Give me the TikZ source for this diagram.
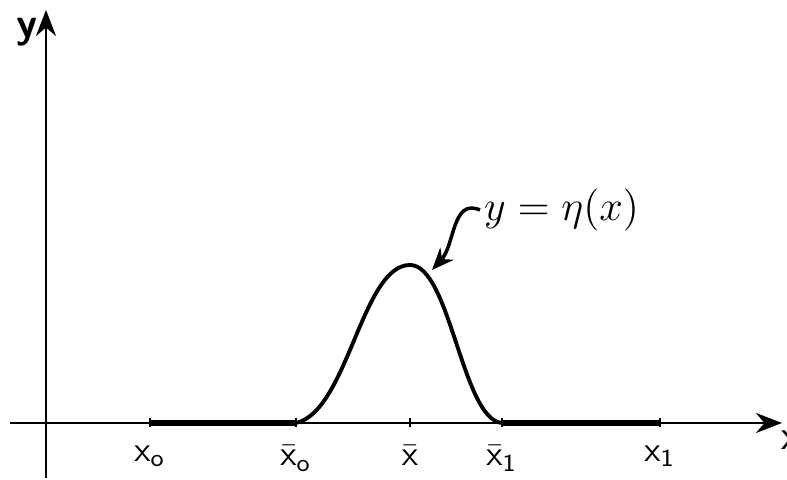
\documentclass[tikz,border=0pt]{standalone}
\usepackage{amsmath,amssymb}
\usepackage{tikz}
\usetikzlibrary{positioning,arrows.meta}

\begin{document}
\begin{tikzpicture}[
        x=0.01cm, y=-0.01cm,
        axis/.style ={thick, -{Stealth[length=2.6mm,width=2mm]}},
        curve/.style ={line width=1.1pt},
        flat/.style ={line width=1.6pt},
        tick/.style ={inner sep=0pt, minimum size=0pt},
        lab/.style ={font=\sffamily, inner sep=1pt},
        note/.style ={line width=1pt, -{Stealth[length=2.2mm,width=1.8mm]}}
    ]
        \useasboundingbox (0,0) rectangle (787,480);

        % axes
        \coordinate (xl) at (10,423);
        \coordinate (xr) at (782,423);
        \coordinate (yb) at (46,478);
        \coordinate (yt) at (46,10);
        \draw[axis] (xl) -- (xr);
        \draw[axis] (yb) -- (yt);
        \node[lab, font=\large\sffamily\bfseries, anchor=east] (ylab) at (42,32) {y};
        \node[lab, font=\large\sffamily, anchor=west] (xlab) at (777,440) {x};

        % points on the x axis
        \node[tick] (a)  at (150,423) {};
        \node[tick] (a0) at (296,423) {};
        \node[tick] (m)  at (410,423) {};
        \node[tick] (a1) at (502,423) {};
        \node[tick] (b)  at (660,423) {};
        \foreach \p in {a,a0,m,a1,b}
            \draw[thick] (\p) ++(0,-5) -- ++(0,9);

        \node[lab, below=5pt of a]  {$\mathsf{x}_{\mathsf{o}}$};
        \node[lab, below=5pt of a0] {$\bar{\mathsf{x}}_{\mathsf{o}}$};
        \node[lab, below=5pt of m]  {$\bar{\mathsf{x}}$};
        \node[lab, below=5pt of a1] {$\bar{\mathsf{x}}_{\mathsf{1}}$};
        \node[lab, below=5pt of b]  {$\mathsf{x}_{\mathsf{1}}$};

        % the bump and the flat parts
        \draw[flat] (a) -- (a0);
        \draw[flat] (a1) -- (b);
        \coordinate (top) at (410,265);
        \draw[curve] (a0) .. controls (348,410) and (362,265) .. (top)
                          .. controls (450,265) and (462,418) .. (a1);

        % label
        \node[lab, font=\large, anchor=west] (eq) at (480,210) {$y = \eta(x)$};
        \coordinate (tip) at (432,270);
        \draw[note] (eq.west) .. controls (452,198) and (455,245) .. (tip);
    \end{tikzpicture}
\end{document}
